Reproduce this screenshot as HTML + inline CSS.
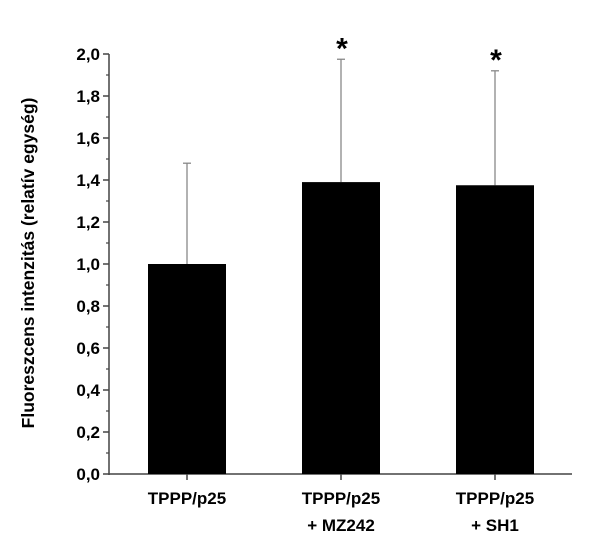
<!DOCTYPE html>
<html><head><meta charset="utf-8"><style>
html,body{margin:0;padding:0;background:#fff;}
svg{display:block;font-family:"Liberation Sans",Arial,sans-serif;font-weight:bold;}
</style></head><body>
<svg id="chart" width="614" height="555" viewBox="0 0 614 555">
<g id="g"></g>
</svg>
<script>
const categories=[["TPPP/p25"],["TPPP/p25","+ MZ242"],["TPPP/p25","+ SH1"]];
const values=[1.0,1.39,1.375];
const errors=[0.48,0.585,0.545];
const marks=["","*","*"];
const yTicks=["0,0","0,2","0,4","0,6","0,8","1,0","1,2","1,4","1,6","1,8","2,0"];
const yTickValues=[0,0.2,0.4,0.6,0.8,1.0,1.2,1.4,1.6,1.8,2.0];
const NS="http://www.w3.org/2000/svg";
const g=document.getElementById('g');
const X0=109,X1=572,Y0=474,PPU=210;
const y=v=>Y0-v*PPU;
const x=i=>187+i*154;
const BW=78;
function el(t,a){const e=document.createElementNS(NS,t);for(const k in a)e.setAttribute(k,a[k]);g.appendChild(e);return e;}
// axes
let e=el('line',{x1:X0,y1:y(2.0),x2:X0,y2:Y0+1,stroke:'#444','stroke-width':1.5});


e=el('line',{x1:X0,y1:Y0,x2:X1,y2:Y0,stroke:'#444','stroke-width':1.5});


yTickValues.forEach((v,i)=>{
 let t=el('line',{x1:X0-6,y1:y(v),x2:X0,y2:y(v),stroke:'#444','stroke-width':1.5});
 
 
 if(i<yTickValues.length-1){
  let m=el('line',{x1:X0-3,y1:y(v+0.1),x2:X0,y2:y(v+0.1),stroke:'#444','stroke-width':1.2});
  
  
 }
 let l=el('text',{x:X0-9,y:y(v)+6,'text-anchor':'end','font-size':17,fill:'#000'});
 l.textContent=yTicks[i];
 
 
});
values.forEach((v,i)=>{
 let er=el('line',{x1:x(i),y1:y(v+errors[i]),x2:x(i),y2:y(v),stroke:'#888','stroke-width':1.3});
 
 
 let cap=el('line',{x1:x(i)-4,y1:y(v+errors[i]),x2:x(i)+4,y2:y(v+errors[i]),stroke:'#888','stroke-width':1.3});
 
 
 let b=el('rect',{x:x(i)-BW/2,y:y(v),width:BW,height:Y0-y(v),fill:'#000'});
 
 
 let xt=el('line',{x1:x(i),y1:Y0,x2:x(i),y2:Y0+6,stroke:'#444','stroke-width':1.5});
 
 
 categories[i].forEach((s,j)=>{
  let t=el('text',{x:x(i),y:504+j*27,'text-anchor':'middle','font-size':17,fill:'#000'});
  t.textContent=s;
  
  
 });
 if(marks[i]){
  let a=el('text',{x:x(i)+1,y:y(v+errors[i])-1,'text-anchor':'middle','font-size':30,fill:'#000'});
  a.textContent=marks[i];
  
  
 }
});
let tt=el('text',{x:0,y:0,'text-anchor':'middle','font-size':17.5,fill:'#000',transform:'translate(34,263) rotate(-90)'});
tt.textContent='Fluoreszcens intenzitás (relatív egység)';


</script>
</body></html>
